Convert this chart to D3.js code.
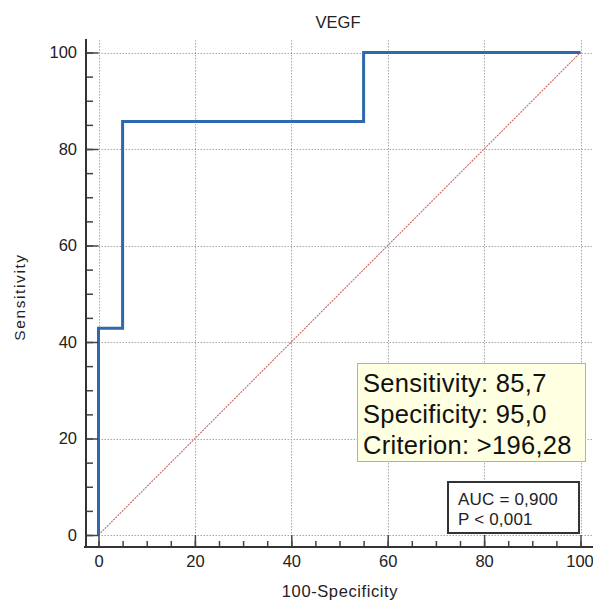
<!DOCTYPE html>
<html>
<head>
<meta charset="utf-8">
<script src="https://cdn.jsdelivr.net/npm/d3@7"></script>
<style>
  body { margin: 0; background: #fff; }
  svg { font-family: "Liberation Sans", Arial, sans-serif; }
</style>
</head>
<body>
<div id="chart"></div>
<script>
// ROC curve points (100-Specificity, Sensitivity)
const rocX = [0, 0, 5, 5, 55, 55, 100];
const rocY = [0, 42.86, 42.86, 85.71, 85.71, 100, 100];
const majorTicks = [0, 20, 40, 60, 80, 100];
const minorTicks = d3.range(0, 101, 5);

const titleText = "VEGF";
const xTitle = "100-Specificity";
const yTitle = "Sensitivity";
const criterionLines = ["Sensitivity: 85,7", "Specificity: 95,0", "Criterion: >196,28"];
const aucLines = ["AUC = 0,900", "P < 0,001"];

const W = 593, H = 601;
const AXIS_X = 86, AXIS_Y = 547;

const svg = d3.select("#chart").append("svg")
    .attr("width", W).attr("height", H);

const x = d3.scaleLinear().domain([0, 100]).range([98.5, 580.5]);
const y = d3.scaleLinear().domain([0, 100]).range([535, 52.5]);

// grid
const grid = svg.append("g").attr("stroke", "#a8a8a8").attr("stroke-dasharray", "1.5,1.5");
grid.selectAll("line.v").data(majorTicks).join("line")
    .attr("x1", d => Math.round(x(d)) + 0.5).attr("x2", d => Math.round(x(d)) + 0.5)
    .attr("y1", 40).attr("y2", y(0));
grid.selectAll("line.h").data(majorTicks).join("line")
    .attr("x1", x(0)).attr("x2", W)
    .attr("y1", d => Math.round(y(d)) + 0.5).attr("y2", d => Math.round(y(d)) + 0.5);

// diagonal reference line
svg.append("line")
    .attr("x1", x(0)).attr("y1", y(0))
    .attr("x2", x(100)).attr("y2", y(100))
    .attr("stroke", "#d07070").attr("stroke-width", 1.2)
    .attr("stroke-dasharray", "2,1");

// ROC curve
const rocData = rocX.map((v, i) => [v, rocY[i]]);
svg.append("path")
    .datum(rocData)
    .attr("fill", "none")
    .attr("stroke", "#2f69ad")
    .attr("stroke-width", 3)
    .attr("d", d3.line().x(d => x(d[0])).y(d => y(d[1])));

// y axis
const yMinor = svg.append("g").attr("transform", `translate(${AXIS_X},0)`)
    .call(d3.axisLeft(y).tickValues(minorTicks).tickSizeInner(-7).tickSizeOuter(0).tickFormat(""));
const yMajor = svg.append("g").attr("transform", `translate(${AXIS_X},0)`)
    .call(d3.axisLeft(y).tickValues(majorTicks).tickSizeInner(-12.5).tickSizeOuter(0).tickPadding(9));

// x axis
const xMinor = svg.append("g").attr("transform", `translate(0,${AXIS_Y})`)
    .call(d3.axisBottom(x).tickValues(minorTicks).tickSizeInner(-6).tickSizeOuter(0).tickFormat(""));
const xMajor = svg.append("g").attr("transform", `translate(0,${AXIS_Y})`)
    .call(d3.axisBottom(x).tickValues(majorTicks).tickSizeInner(-12).tickSizeOuter(0).tickPadding(8));

[yMinor, yMajor, xMinor, xMajor].forEach(g => {
    g.select(".domain").remove();
    g.selectAll(".tick line").attr("stroke", "#444").attr("stroke-width", 1.5);
    g.selectAll(".tick text").attr("font-size", 16.5).attr("fill", "#222")
        .attr("font-family", "Liberation Sans, Arial, sans-serif");
});
// keep the last x label inside the picture
xMajor.selectAll(".tick text").filter(d => d === 100).attr("dx", -1);

// axis lines
svg.append("line").attr("x1", AXIS_X).attr("x2", AXIS_X).attr("y1", 39).attr("y2", AXIS_Y + 1)
    .attr("stroke", "#333").attr("stroke-width", 2);
svg.append("line").attr("x1", AXIS_X - 2).attr("x2", W).attr("y1", AXIS_Y).attr("y2", AXIS_Y)
    .attr("stroke", "#333").attr("stroke-width", 2);

// titles
svg.append("text").attr("x", 338).attr("y", 28).attr("text-anchor", "middle")
    .attr("font-size", 16.5).attr("fill", "#222").text(titleText);
svg.append("text").attr("x", 340).attr("y", 597).attr("text-anchor", "middle")
    .attr("font-size", 16.5).attr("letter-spacing", 0.6).attr("fill", "#222").text(xTitle);
svg.append("text").attr("transform", "translate(25,297) rotate(-90)").attr("text-anchor", "middle")
    .attr("font-size", 15.5).attr("letter-spacing", 1.6).attr("fill", "#222").text(yTitle);

// criterion box
const crit = svg.append("g");
crit.append("rect").attr("x", 357.5).attr("y", 363.5).attr("width", 228).attr("height", 98)
    .attr("fill", "#ffffe1").attr("stroke", "#9fb3cc").attr("stroke-width", 1);
crit.selectAll("text").data(criterionLines).join("text")
    .attr("x", 363).attr("y", (d, i) => 391.5 + i * 31.3)
    .attr("font-size", 25.5).attr("letter-spacing", 0.3).attr("fill", "#111").text(d => d);

// AUC box
const auc = svg.append("g");
auc.append("rect").attr("x", 448).attr("y", 482).attr("width", 131).attr("height", 51)
    .attr("fill", "#fff").attr("stroke", "#333").attr("stroke-width", 2);
auc.selectAll("text").data(aucLines).join("text")
    .attr("x", 458).attr("y", (d, i) => 504.5 + i * 20)
    .attr("font-size", 17).attr("letter-spacing", 0.2).attr("fill", "#222").text(d => d);
</script>
</body>
</html>
